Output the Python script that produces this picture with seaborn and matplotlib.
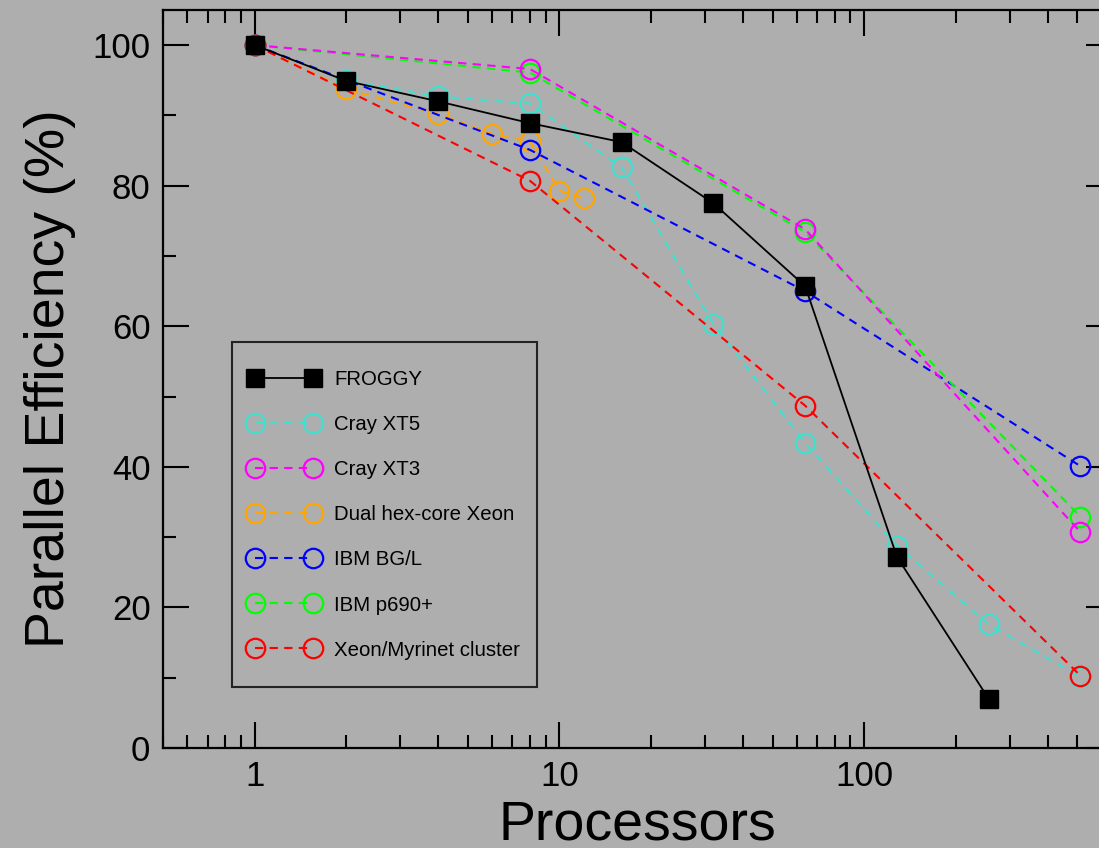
import matplotlib
matplotlib.use("Agg")
import matplotlib.pyplot as plt
import seaborn as sns
import pandas as pd
import numpy as np
from matplotlib.path import Path
from matplotlib.ticker import FixedLocator, FuncFormatter, LogLocator, NullFormatter, MultipleLocator

# ---------------- data ----------------
froggy_x = [1, 2, 4, 8, 16, 32, 64, 128, 256]
froggy_y = [100, 94.9, 92.0, 88.9, 86.2, 77.5, 65.7, 27.2, 7.0]

xt5_x = [1, 2, 4, 8, 16, 32, 64, 128, 256, 512]
xt5_y = [100, 95.0, 92.7, 91.7, 82.6, 60.3, 43.4, 28.8, 17.6, 10.1]

xt3_x = [1, 8, 64, 512]
xt3_y = [100, 96.6, 73.8, 30.7]

xeon_hex_x = [1, 2, 4, 6, 8, 10, 12]
xeon_hex_y = [100, 93.7, 90.2, 87.4, 86.3, 79.3, 78.2]

bgl_x = [1, 8, 64, 512]
bgl_y = [100, 85.1, 65.0, 40.1]

p690_x = [1, 8, 64, 512]
p690_y = [100, 96.1, 73.4, 32.9]

myri_x = [1, 8, 64, 512]
myri_y = [100, 80.7, 48.7, 10.3]

labels = ["FROGGY", "Cray XT5", "Cray XT3", "Dual hex-core Xeon",
          "IBM BG/L", "IBM p690+", "Xeon/Myrinet cluster"]
colors = ["black", "#40E0D0", "#FF00FF", "#FFA500", "#0000FF", "#00FF00", "#FF0000"]

x_ticks = [1, 10, 100]
x_tick_labels = ["1", "10", "100"]
y_ticks = [0, 20, 40, 60, 80, 100]

# ---------------- style ----------------
bg = "#aeaeae"
sns.set_style("ticks")
plt.rcParams["font.family"] = ["Liberation Sans", "DejaVu Sans"]
plt.rcParams["text.color"] = "black"
plt.rcParams["axes.labelcolor"] = "black"
plt.rcParams["xtick.color"] = "black"
plt.rcParams["ytick.color"] = "black"

fig = plt.figure(figsize=(10.99, 8.48), dpi=100, facecolor=bg)
ax = fig.add_axes([163 / 1099, 1 - 748 / 848, (1112 - 163) / 1099, (748 - 10) / 848])
ax.set_facecolor(bg)

series = {
    "FROGGY": (froggy_x, froggy_y),
    "Cray XT5": (xt5_x, xt5_y),
    "Cray XT3": (xt3_x, xt3_y),
    "Dual hex-core Xeon": (xeon_hex_x, xeon_hex_y),
    "IBM BG/L": (bgl_x, bgl_y),
    "IBM p690+": (p690_x, p690_y),
    "Xeon/Myrinet cluster": (myri_x, myri_y),
}
color_map = dict(zip(labels, colors))

draw_order = ["Cray XT5", "Dual hex-core Xeon", "IBM BG/L", "IBM p690+",
              "Cray XT3", "Xeon/Myrinet cluster", "FROGGY"]
handles = {}
for name in draw_order:
    xs, ys = series[name]
    df = pd.DataFrame({"x": xs, "y": ys})
    c = color_map[name]
    if name == "FROGGY":
        sns.lineplot(data=df, x="x", y="y", ax=ax, color=c, estimator=None,
                     errorbar=None, sort=False, marker="s", markersize=13,
                     mfc=c, mec=c, mew=1.0, lw=1.3, linestyle="-", zorder=5)
    else:
        sns.lineplot(data=df, x="x", y="y", ax=ax, color=c, estimator=None,
                     errorbar=None, sort=False, marker="o", markersize=14,
                     mfc="none", mec=c, mew=1.6, lw=1.5,
                     linestyle=(0, (4, 3)), zorder=3)
    handles[name] = ax.get_lines()[-1]

ax.set_xscale("log")
ax.set_xlim(0.5, 650)
ax.set_ylim(0, 105)

ax.xaxis.set_major_locator(FixedLocator(x_ticks))
ax.xaxis.set_major_formatter(FuncFormatter(
    lambda v, p: dict(zip(x_ticks, x_tick_labels)).get(int(round(v)), "")))
ax.xaxis.set_minor_locator(LogLocator(base=10, subs=np.arange(2, 10)))
ax.xaxis.set_minor_formatter(NullFormatter())
ax.yaxis.set_major_locator(FixedLocator(y_ticks))
ax.yaxis.set_minor_locator(MultipleLocator(10))

ax.tick_params(which="both", direction="in", top=True, right=True, color="black",
               width=1.5)
ax.tick_params(which="major", length=19, labelsize=25, pad=9, labelcolor="black")
ax.tick_params(which="minor", length=9.5)
for s in ax.spines.values():
    s.set_linewidth(1.6)
    s.set_color("black")

ax.set_xlabel("Processors", fontsize=40, labelpad=4, color="black")
ax.set_ylabel("Parallel Efficiency (%)", fontsize=40, labelpad=12, color="black")

# legend with extra vertical padding on its frame
VPAD = 0.5


def vpad_box(x0, y0, width, height, mutation_size):
    p = VPAD * mutation_size
    return Path([(x0, y0 - p), (x0 + width, y0 - p), (x0 + width, y0 + height + p),
                 (x0, y0 + height + p), (x0, y0 - p)], closed=True)


leg = ax.legend([handles[n] for n in labels], labels, numpoints=2,
                loc="lower left", bbox_to_anchor=((232 - 163) / 949, (748 - 677) / 738),
                borderaxespad=0, fontsize=14.7, handlelength=3.4, handletextpad=0.75,
                labelspacing=1.28, borderpad=0.85, fancybox=False, frameon=True)
frame = leg.get_frame()
frame.set_boxstyle(vpad_box)
frame.set_facecolor("none")
frame.set_edgecolor("black")
frame.set_linewidth(1.5)

fig.savefig("out.png", dpi=100, facecolor=bg)
